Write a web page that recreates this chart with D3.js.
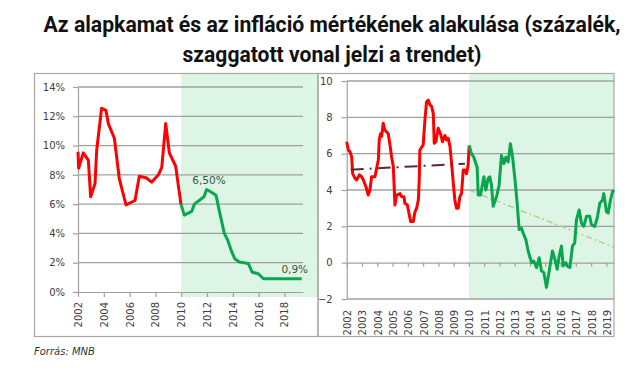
<!DOCTYPE html>
<html>
<head>
<meta charset="utf-8">
<script src="https://cdn.jsdelivr.net/npm/d3@7"></script>
<style>
  html, body { margin: 0; padding: 0; background: #fff; }
  svg { display: block; }
</style>
</head>
<body>
<div id="chart"></div>
<script>
// ---- data (time = years since 2002) ----
const titleLines = ["Az alapkamat és az infláció mértékének alakulása (százalék,", "szaggatott vonal jelzi a trendet)"];
const source = "Forrás: MNB";

// left: alapkamat (%)
const rateYTicks = [0, 2, 4, 6, 8, 10, 12, 14];
const rateXTicks = [2002, 2004, 2006, 2008, 2010, 2012, 2014, 2016, 2018];
const rateRedT = [0, 0.05, 0.41, 0.8, 0.98, 1.32, 1.45, 1.83, 2.17, 2.35, 2.82, 3.2, 3.72, 4.42, 4.75, 5.27, 5.71, 6.23, 6.49, 6.8, 7.08, 7.57, 7.78, 7.98];
const rateRedV = [9.58, 8.45, 9.5, 9.0, 6.5, 7.4, 9.7, 12.55, 12.4, 11.5, 10.5, 7.75, 5.95, 6.25, 7.9, 7.8, 7.5, 8.0, 8.5, 11.5, 9.5, 8.6, 7.25, 6.0];
const rateGreenT = [7.98, 8.24, 8.81, 9.02, 9.77, 9.97, 10.28, 10.7, 11.0, 11.34, 11.6, 11.91, 12.17, 12.5, 13.2, 13.5, 13.98, 14.37, 17.34];
const rateGreenV = [6.0, 5.25, 5.5, 6.0, 6.5, 7.0, 6.85, 6.6, 5.35, 4.0, 3.55, 2.75, 2.25, 2.05, 1.95, 1.35, 1.25, 0.9, 0.9];
const rateNotes = ["6,50%", "0,9%"];
const rateNoteT = [10.15, 16.8];
const rateNoteV = [7.35, 1.3];

// right: infláció (%)
const inflYTicks = [-2, 0, 2, 4, 6, 8, 10];
const inflXTicks = d3.range(2002, 2020);
const inflRedT = [0, 0.11, 0.22, 0.33, 0.39, 0.54, 0.65, 0.83, 0.98, 1.09, 1.26, 1.41, 1.52, 1.63, 1.85, 1.96, 2.07, 2.13, 2.22, 2.29, 2.39, 2.5, 2.72, 2.83, 2.94, 3.05, 3.16, 3.27, 3.49, 3.6, 3.75, 3.81, 3.97, 4.1, 4.19, 4.36, 4.47, 4.58, 4.69, 4.75, 4.79, 5.01, 5.12, 5.23, 5.34, 5.45, 5.56, 5.67, 5.73, 5.84, 5.99, 6.14, 6.27, 6.43, 6.54, 6.65, 6.76, 6.86, 6.97, 7.08, 7.19, 7.3, 7.41, 7.52, 7.63, 7.74, 7.84, 7.95, 8.02];
const inflRedV = [6.66, 6.2, 6.1, 5.8, 4.9, 4.65, 4.55, 4.83, 4.73, 4.55, 4.18, 3.72, 4.0, 4.73, 4.73, 5.2, 5.65, 6.75, 7.1, 6.95, 7.67, 7.3, 7.1, 6.5, 5.83, 5.3, 3.17, 3.72, 3.8, 3.63, 3.63, 3.27, 3.17, 2.62, 2.26, 2.26, 2.8, 3.0, 3.45, 4.55, 6.2, 6.48, 7.85, 8.86, 8.95, 8.68, 8.6, 8.2, 6.57, 6.66, 7.4, 7.1, 6.66, 7.0, 6.75, 6.84, 6.4, 5.56, 4.46, 3.45, 3.0, 3.0, 3.63, 3.8, 5.1, 5.1, 4.9, 5.37, 6.45];
const inflGreenT = [8.02, 8.17, 8.32, 8.46, 8.54, 8.61, 8.76, 8.9, 8.98, 9.11, 9.26, 9.37, 9.48, 9.59, 9.81, 9.98, 10.13, 10.29, 10.42, 10.57, 10.72, 10.86, 11.01, 11.16, 11.29, 11.44, 11.55, 11.73, 11.88, 12.1, 12.25, 12.43, 12.6, 12.75, 12.91, 13.08, 13.26, 13.47, 13.63, 13.78, 13.91, 14.06, 14.17, 14.34, 14.43, 14.61, 14.78, 14.93, 15.04, 15.22, 15.37, 15.52, 15.7, 15.91, 16.02, 16.24, 16.4, 16.57, 16.75, 16.83, 17.01, 17.12, 17.27, 17.4, 17.49];
const inflGreenV = [6.45, 6.0, 5.8, 5.45, 5.27, 3.73, 3.73, 4.36, 4.73, 4.0, 4.64, 4.73, 4.27, 3.1, 3.64, 4.27, 5.9, 5.45, 5.8, 5.55, 6.55, 5.8, 4.64, 3.27, 1.82, 1.9, 1.64, 1.27, 0.64, 0.0, 0.09, -0.27, 0.27, -0.45, -0.55, -1.36, -0.45, 0.64, 0.18, -0.36, 0.36, 0.91, -0.18, 0.0, -0.18, -0.27, 0.91, 1.09, 2.36, 2.9, 2.18, 2.0, 2.55, 2.55, 2.1, 2.0, 2.45, 3.27, 3.45, 3.8, 2.8, 2.73, 3.45, 3.9, 4.0];
const trendRedT = [0.26, 7.74];
const trendRedV = [5.12, 5.45];
const trendGreenT = [8.0, 17.5];
const trendGreenV = [4.0, 0.85];

// ---- setup ----
const W = 644, H = 386;
const svg = d3.select("#chart").append("svg").attr("width", W).attr("height", H);

const RED = "#ff0000", GREEN = "#0aa64e", SHADE = "#ddf5e4";
const GRID = "#a0a0a0", FRAME = "#a8a8a8", TXT = "#404040";
const axisFont = "DejaVu Sans, Verdana, sans-serif";

const zip = (t, v) => t.map((d, i) => [2002 + d, v[i]]);

// title
svg.selectAll("text.title").data(titleLines).join("text")
  .attr("class", "title")
  .attr("x", 332)
  .attr("y", (d, i) => 32 + i * 29.5)
  .attr("text-anchor", "middle")
  .attr("textLength", (d, i) => i === 0 ? 577 : 299)
  .attr("lengthAdjust", "spacingAndGlyphs")
  .style("font-family", "Roboto, sans-serif")
  .style("font-weight", "bold")
  .style("font-size", "22px")
  .style("fill", "#111")
  .text(d => d);

// scales
const xL = d3.scaleLinear().domain([2002, 2019.44]).range([78, 303]);
const yL = d3.scaleLinear().domain([0, 14]).range([292, 87]);
const xR = d3.scaleLinear().domain([2002, 2019.5]).range([346.7, 614]);
const yR = d3.scaleLinear().domain([-2, 10]).range([299, 81]);

// shading
svg.append("rect")
  .attr("x", xL(2010)).attr("y", 73)
  .attr("width", 318 - xL(2010)).attr("height", 297 - 73)
  .attr("fill", SHADE);
svg.append("rect")
  .attr("x", xR(2010)).attr("y", 73)
  .attr("width", 614 - xR(2010)).attr("height", yR(-2) - 73)
  .attr("fill", SHADE);

// frames
svg.append("rect").attr("x", 34.5).attr("y", 73.5).attr("width", 283.5).attr("height", 263)
  .attr("fill", "none").attr("stroke", FRAME).attr("stroke-width", 1.2);
svg.append("rect").attr("x", 318).attr("y", 73.5).attr("width", 296).attr("height", 263)
  .attr("fill", "none").attr("stroke", FRAME).attr("stroke-width", 1.2);

function styleAxis(g) {
  g.selectAll("path.domain").attr("stroke", GRID).attr("stroke-width", 1.2);
  g.selectAll(".tick line").attr("stroke", GRID).attr("stroke-width", 1.2);
  g.selectAll("text").style("font-family", axisFont).style("font-size", "10px").attr("fill", TXT);
}

// ---- left panel ----
const left = svg.append("g");
left.append("g").selectAll("line").data(rateYTicks.filter(d => d > 0)).join("line")
  .attr("x1", xL.range()[0]).attr("x2", xL.range()[1])
  .attr("y1", d => yL(d)).attr("y2", d => yL(d))
  .attr("stroke", GRID).attr("stroke-width", 1.3);

left.append("g")
  .attr("transform", `translate(${xL.range()[0]},0)`)
  .call(d3.axisLeft(yL).tickValues(rateYTicks).tickSize(5).tickSizeOuter(0).tickPadding(8).tickFormat(d => d + "%"))
  .call(styleAxis);

left.append("g")
  .attr("transform", `translate(0,${yL(0)})`)
  .call(d3.axisBottom(xL).tickValues(rateXTicks).tickSize(5).tickSizeOuter(0).tickFormat(d3.format("d")))
  .call(styleAxis)
  .selectAll("text")
  .attr("transform", "rotate(-90)")
  .attr("text-anchor", "end")
  .attr("x", -10).attr("y", 0).attr("dy", "0.35em");

const lineL = d3.line().x(d => xL(d[0])).y(d => yL(d[1]));
left.append("path").datum(zip(rateRedT, rateRedV)).attr("d", lineL)
  .attr("fill", "none").attr("stroke", RED).attr("stroke-width", 3).attr("stroke-linejoin", "round");
left.append("path").datum(zip(rateGreenT, rateGreenV)).attr("d", lineL)
  .attr("fill", "none").attr("stroke", GREEN).attr("stroke-width", 3).attr("stroke-linejoin", "round");

left.selectAll("text.note").data(rateNotes).join("text")
  .attr("class", "note")
  .attr("x", (d, i) => xL(2002 + rateNoteT[i]))
  .attr("y", (d, i) => yL(rateNoteV[i]))
  .attr("text-anchor", "middle")
  .style("font-family", axisFont).style("font-size", "10.5px")
  .attr("fill", "#3a5446")
  .text(d => d);

// ---- right panel ----
const right = svg.append("g");
right.append("g").selectAll("line").data(inflYTicks.filter(d => d !== 0)).join("line")
  .attr("x1", xR.range()[0]).attr("x2", xR.range()[1])
  .attr("y1", d => yR(d)).attr("y2", d => yR(d))
  .attr("stroke", GRID).attr("stroke-width", 1.3);

right.append("g")
  .attr("transform", `translate(${xR.range()[0]},0)`)
  .call(d3.axisLeft(yR).tickValues(inflYTicks).tickSize(5).tickSizeOuter(0).tickPadding(9))
  .call(styleAxis);

// zero line with year ticks
right.append("g")
  .attr("transform", `translate(0,${yR(0)})`)
  .call(d3.axisBottom(xR).tickValues(inflXTicks).tickSize(4).tickSizeOuter(0).tickFormat(""))
  .call(styleAxis);

// year labels under the plot
right.append("g")
  .attr("transform", `translate(0,${yR(-2)})`)
  .call(d3.axisBottom(xR).tickValues(inflXTicks).tickSize(0).tickFormat(d3.format("d")))
  .call(styleAxis)
  .call(g => g.select("path.domain").remove())
  .selectAll("text")
  .attr("transform", "rotate(-90)")
  .attr("text-anchor", "end")
  .attr("x", -11).attr("y", 0).attr("dy", "0.4em");

const lineR = d3.line().x(d => xR(d[0])).y(d => yR(d[1]));
right.append("path").datum(zip(trendGreenT, trendGreenV)).attr("d", lineR)
  .attr("fill", "none").attr("stroke", "#b8c98a").attr("stroke-width", 1.4)
  .attr("stroke-dasharray", "6,3,2,3");
right.append("path").datum(zip(inflRedT, inflRedV)).attr("d", lineR)
  .attr("fill", "none").attr("stroke", RED).attr("stroke-width", 3).attr("stroke-linejoin", "round");
right.append("path").datum(zip(inflGreenT, inflGreenV)).attr("d", lineR)
  .attr("fill", "none").attr("stroke", GREEN).attr("stroke-width", 3).attr("stroke-linejoin", "round");
right.append("path").datum(zip(trendRedT, trendRedV)).attr("d", lineR)
  .attr("fill", "none").attr("stroke", "#5a2a2a").attr("stroke-width", 2)
  .attr("stroke-dasharray", "13,6,2,6");

// source
svg.append("text")
  .attr("x", 34).attr("y", 355)
  .style("font-family", axisFont).style("font-size", "10px").style("font-style", "italic")
  .attr("fill", "#333")
  .text(source);
</script>
</body>
</html>
